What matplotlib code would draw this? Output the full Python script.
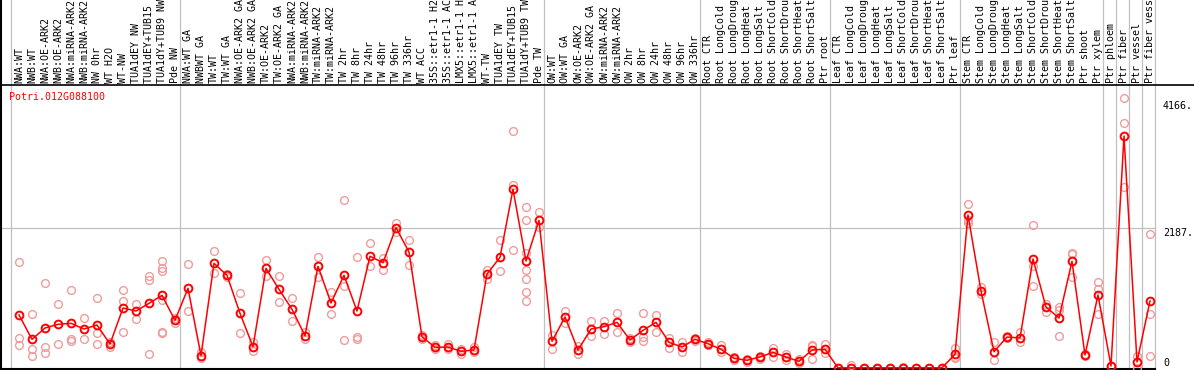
import matplotlib
matplotlib.use('Agg')
import matplotlib.pyplot as plt

gene = 'Potri.012G088100'

labels = [
    'NWA:WT', 'NWB:WT', 'NWA:OE-ARK2', 'NWB:OE-ARK2', 'NWA:miRNA-ARK2', 'NWB:miRNA-ARK2',
    'NW 0hr', 'WT H2O', 'WT-NW', 'TUA1dEY NW', 'TUA1dEY+TUB15 NW', 'TUA1dY+TUB9 NW', 'Pde NW',
    'NWA:WT GA', 'NWBWT GA', 'TW:WT', 'TW:WT GA', 'NWA:OE-ARK2 GA', 'NWB:OE-ARK2 GA',
    'TW:OE-ARK2', 'TW:OE-ARK2 GA', 'NWA:miRNA-ARK2', 'NWB:miRNA-ARK2', 'TW:miRNA-ARK2',
    'TW:miRNA-ARK2', 'TW 2hr', 'TW 8hr', 'TW 24hr', 'TW 48hr', 'TW 96hr', 'TW 336hr', 'WT ACC',
    '35S::etr1-1 H2O', '35S::etr1-1 ACC', 'LMX5::etr1-1 H2O', 'LMX5::etr1-1 ACC', 'WT-TW',
    'TUA1dEY TW', 'TUA1dEY+TUB15 TW', 'TUA1dY+TUB9 TW', 'Pde TW',
    'OW:WT', 'OW:WT GA', 'OW:OE-ARK2', 'OW:OE-ARK2 GA', 'OW:miRNA-ARK2', 'OW:miRNA-ARK2',
    'OW 2hr', 'OW 8hr', 'OW 24hr', 'OW 48hr', 'OW 96hr', 'OW 336hr',
    'Root CTR', 'Root LongCold', 'Root LongDrought', 'Root LongHeat', 'Root LongSalt',
    'Root ShortCold', 'Root ShortDrought', 'Root ShortHeat', 'Root ShortSalt', 'Ptr root',
    'Leaf CTR', 'Leaf LongCold', 'Leaf LongDrought', 'Leaf LongHeat', 'Leaf LongSalt',
    'Leaf ShortCold', 'Leaf ShortDrought', 'Leaf ShortHeat', 'Leaf ShortSalt', 'Ptr leaf',
    'Stem CTR', 'Stem LongCold', 'Stem LongDrought', 'Stem LongHeat', 'Stem LongSalt',
    'Stem ShortCold', 'Stem ShortDrought', 'Stem ShortHeat', 'Stem ShortSalt', 'Ptr shoot',
    'Ptr xylem', 'Ptr phloem', 'Ptr fiber', 'Ptr vessel', 'Ptr fiber vessel',
]

# group boundaries (index of first sample in each block) for the grey separators
boundaries = [0, 13, 41, 53, 63, 73, 84, 85, 86, 87, 88]

means = [
    828, 448, 625, 682, 698, 609, 672, 375, 937, 890, 1010, 1135, 745,
    1245, 193, 1635, 1448, 854, 333, 1557, 1229, 917, 505, 1588, 1015, 1448, 890, 1745, 1645,
    2192, 1812, 489, 323, 328, 261, 281, 1468, 1729, 2791, 1671, 2307,
    417, 797, 281, 609, 645, 714, 437, 588, 714, 401, 328, 448,
    380, 292, 151, 120, 172, 245, 172, 104, 281, 292,
    3, 3, 3, 3, 3, 3, 3, 3, 3, 214,
    2390, 1203, 255, 484, 469, 1703, 953, 781, 1666, 203, 1140,
    31, 3624, 94, 1047,
]

reps = [
    [1651, 464, 359], [839, 297, 193], [1328, 333, 229], [995, 375], [1218, 448, 427],
    [781, 448], [1093, 552, 375], [401, 333], [1213, 1047, 557], [1000, 760],
    [1432, 1370, 218], [1671, 1557, 1510, 1057, 567, 541], [786, 698],
    [1620, 885], [245, 151], [1828, 1484], [1473, 1423], [1167, 541], [401, 271],
    [1687, 1432], [1432, 1031], [1093, 734], [557, 453], [1729, 1426], [1182, 839],
    [2619, 1286, 432], [1729, 489, 458], [1953, 1588], [1723, 1531], [2270, 2120],
    [1994, 1604], [448, 521], [354, 297], [375, 297], [292, 219], [323, 255],
    [1531, 1385], [1994, 1510], [3702, 2858, 1838],
    [2510, 2307, 1791, 1531, 1385, 1182, 1047], [2432, 2207],
    [515, 292], [895, 698], [344, 218], [734, 495], [734, 536], [854, 557], [464, 411],
    [854, 479, 422], [828, 557], [464, 317], [406, 255], [469, 427],
    [401, 359], [354, 250], [177, 130], [146, 94], [193, 146], [307, 177], [219, 125],
    [135, 73], [365, 338, 141], [370, 240],
    [3, 3], [42, 0], [5, 2], [5, 2], [5, 2], [21, 0], [3, 3], [3, 3], [3, 3], [307, 177, 160],
    [2562, 2312, 2260], [1260, 1151], [401, 125], [500, 469], [567, 401], [2229, 1598, 1281],
    [1000, 869], [958, 906, 500], [1801, 1781, 1426], [219, 187], [1343, 1234, 843],
    [36, 26], [4213, 3822, 2822], [190, 0], [2093, 839, 187],
]

ytick_vals = [4166, 2187, 0]
ytick_text = ['4166.', '2187.', '0']

W, H = 1194, 370
fig = plt.figure(figsize=(W / 100, H / 100), dpi=100)
# plot box: x pixels 1..1194, y pixels 85..369
ax = fig.add_axes([1 / W, 1 / H, (W - 1) / W, 284 / H])

step = 13.0
x0 = 11.0
ax.set_xlim((1 - x0) / step, (W - x0) / step)
ppv = 140 / 2187.0
ax.set_ylim(-1 / ppv, 283 / ppv)

mono = 'DejaVu Sans Mono'
fs = 7.2
grey = '#c0c0c0'
red = '#ff0000'
pink = '#f09c9c'

for s in ['right', 'bottom', 'left']:
    ax.spines[s].set_visible(False)
ax.spines['top'].set_color('black')
ax.spines['top'].set_linewidth(1.2)
ax.set_xticks([])
ax.set_yticks([])

xl = ax.get_xlim()
yl = ax.get_ylim()
top_frac = 369 / 284.0
ax.plot([xl[0], boundaries[-1]], [yl[0], yl[0]], color='black', lw=1.5, clip_on=False)
ax.axvline(xl[0], ymin=0, ymax=top_frac, color='black', lw=1.5, clip_on=False)

for b in boundaries:
    ax.axvline(b, ymin=0, ymax=top_frac, color=grey, lw=0.9, clip_on=False, zorder=1)
ax.plot([xl[0], boundaries[-1]], [2187, 2187], color=grey, lw=0.9, zorder=1)

xs = [i + 8 / step for i in range(len(labels))]

for x, r in zip(xs, reps):
    ax.plot([x] * len(r), r, 'o', ms=5.6, mfc='none', mec=pink, mew=1.0,
            clip_on=False, zorder=2)
ax.plot(xs, means, '-', color=red, lw=1.1, zorder=3, clip_on=False)
ax.plot(xs, means, 'o', ms=5.6, mfc='none', mec=red, mew=1.4, zorder=4, clip_on=False)

for x, lab in zip(xs, labels):
    ax.text(x, 1 + 2 / 284.0, lab, transform=ax.get_xaxis_transform(), rotation=90,
            ha='center', va='bottom', fontsize=fs, family=mono, color='black')

ax.text(-2 / step, (369 - 97) / 284.0, gene, transform=ax.get_xaxis_transform(),
        ha='left', va='center', fontsize=fs, family=mono, color=red)

for v, t in zip(ytick_vals, ytick_text):
    ax.text((1163 - x0) / step, v, t, ha='left', va='bottom' if v == 0 else 'top',
            fontsize=fs, family=mono, color='black')

fig.savefig('out.png', dpi=100)
